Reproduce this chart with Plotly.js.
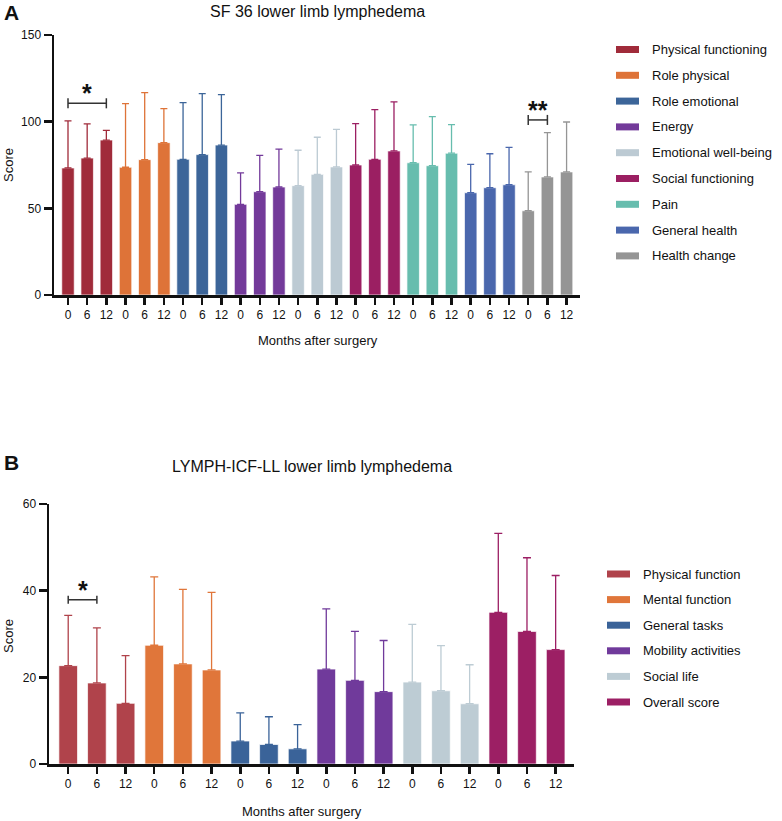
<!DOCTYPE html>
<html>
<head>
<meta charset="utf-8">
<script src="https://cdn.plot.ly/plotly-3.0.1.min.js"></script>
<style>
  html, body { margin: 0; padding: 0; background: #fff; }
  #chart { width: 782px; height: 821px; }
</style>
</head>
<body>
<div id="chart"></div>
<script>
// time points (months after surgery)
var months = ['0', '6', '12'];

// Panel A: SF 36
var sfNames = ['Physical functioning', 'Role physical', 'Role emotional', 'Energy',
  'Emotional well-being', 'Social functioning', 'Pain', 'General health', 'Health change'];
var sfColors = ['#A02B3A', '#DE7338', '#3C6599', '#733A9A', '#BCCAD3', '#9B1F62', '#67BDAE', '#4A67AD', '#959595'];
var sfMean = [
  [73.3, 79.0, 89.4],
  [73.7, 78.1, 87.9],
  [78.3, 81.0, 86.5],
  [52.3, 59.6, 62.3],
  [63.1, 69.6, 73.9],
  [75.0, 78.3, 83.1],
  [76.3, 74.6, 81.8],
  [59.0, 61.9, 63.6],
  [48.6, 68.1, 71.0]
];
var sfSD = [
  [27.1, 19.7, 5.6],
  [36.7, 38.6, 19.6],
  [32.7, 35.2, 29.1],
  [18.1, 21.0, 21.9],
  [20.4, 21.4, 21.7],
  [23.9, 28.6, 28.3],
  [21.8, 28.3, 16.5],
  [16.4, 19.6, 21.6],
  [22.4, 25.6, 28.8]
];
// significance brackets: bar index from, to, height, label
var sfSig = [
  {from: 0, to: 2, y: 110.6, label: '*'},
  {from: 24, to: 25, y: 101, label: '**'}
];

// Panel B: LYMPH-ICF-LL
var icfNames = ['Physical function', 'Mental function', 'General tasks', 'Mobility activities', 'Social life', 'Overall score'];
var icfColors = ['#B0434B', '#E0763A', '#3A6399', '#703A9B', '#BDCCD4', '#9C1F64'];
var icfMean = [
  [22.7, 18.7, 14.0],
  [27.4, 23.1, 21.7],
  [5.3, 4.5, 3.5],
  [21.9, 19.3, 16.7],
  [18.9, 16.9, 13.9],
  [35.0, 30.6, 26.4]
];
var icfSD = [
  [11.6, 12.7, 11.0],
  [15.8, 17.2, 17.9],
  [6.5, 6.4, 5.6],
  [13.9, 11.3, 11.8],
  [13.3, 10.4, 9.0],
  [18.2, 17.0, 17.1]
];
var icfSig = [
  {from: 0, to: 1, y: 37.9, label: '*'}
];

var W = 782, H = 821;
function px(x) { return x / W; }
function py(y) { return 1 - y / H; }
var font = 'Liberation Sans, Arial, sans-serif';

var data = [];
var shapes = [];
var annotations = [];

function addPanel(names, colors, means, sds, xa, ya, capw) {
  names.forEach(function(name, g) {
    var xs = months.map(function(m, j) { return g * months.length + j; });
    data.push({
      type: 'bar',
      name: name,
      x: xs,
      y: means[g],
      width: 0.65,
      xaxis: xa,
      yaxis: ya,
      showlegend: false,
      hoverinfo: 'skip',
      marker: {color: colors[g], line: {color: 'rgba(255,255,255,0.7)', width: 1}},
      error_y: {
        type: 'data',
        symmetric: false,
        array: sds[g],
        arrayminus: sds[g].map(function() { return 0; }),
        color: colors[g],
        thickness: 1.3,
        width: capw
      }
    });
  });
}

function addSig(sig, xr, yr, half) {
  sig.forEach(function(s) {
    var lineStyle = {color: '#333', width: 1.5};
    shapes.push({type: 'line', xref: xr, yref: yr, x0: s.from, x1: s.to, y0: s.y, y1: s.y, line: lineStyle});
    shapes.push({type: 'line', xref: xr, yref: yr, x0: s.from, x1: s.from, y0: s.y - half, y1: s.y + half, line: lineStyle});
    shapes.push({type: 'line', xref: xr, yref: yr, x0: s.to, x1: s.to, y0: s.y - half, y1: s.y + half, line: lineStyle});
    annotations.push({
      xref: xr, yref: yr, x: (s.from + s.to) / 2, y: s.y,
      text: '<b>' + s.label + '</b>', showarrow: false,
      yanchor: 'bottom', yshift: -6,
      font: {family: font, size: 25, color: '#111'}
    });
  });
}

function addLegend(names, colors, rx0, rx1, tx, y0, dy) {
  names.forEach(function(name, i) {
    var y = y0 + i * dy;
    shapes.push({
      type: 'rect', xref: 'paper', yref: 'paper',
      x0: px(rx0), x1: px(rx1), y0: py(y - 3.5), y1: py(y + 3.5),
      fillcolor: colors[i], line: {width: 0}
    });
    annotations.push({
      xref: 'paper', yref: 'paper', x: px(tx), y: py(y),
      xanchor: 'left', yanchor: 'middle', showarrow: false,
      text: name, font: {family: font, size: 13, color: '#111'}
    });
  });
}

addPanel(sfNames, sfColors, sfMean, sfSD, 'x', 'y', 3.5);
addPanel(icfNames, icfColors, icfMean, icfSD, 'x2', 'y2', 4);
addSig(sfSig, 'x', 'y', 2.9);
addSig(icfSig, 'x2', 'y2', 0.9);
addLegend(sfNames, sfColors, 616, 639, 650, 49.5, 25.8);
addLegend(icfNames, icfColors, 607, 630, 641, 574, 25.6);

function textAnn(text, x, y, size, opts) {
  var a = {
    xref: 'paper', yref: 'paper', x: px(x), y: py(y),
    xanchor: 'center', yanchor: 'middle', showarrow: false,
    text: text, font: {family: font, size: size, color: '#111'}
  };
  for (var k in opts) a[k] = opts[k];
  annotations.push(a);
}

textAnn('<b>A</b>', 11, 12, 21);
textAnn('<b>B</b>', 11, 462, 21);
textAnn('SF 36 lower limb lymphedema', 317, 11, 16);
textAnn('LYMPH-ICF-LL lower limb lymphedema', 312, 466, 16);
textAnn('Months after surgery', 318, 340, 13);
textAnn('Months after surgery', 302, 811, 13);
textAnn('Score', 8, 165, 13, {textangle: -90});
textAnn('Score', 8, 636, 13, {textangle: -90});

var nSf = sfNames.length * months.length;
var nIcf = icfNames.length * months.length;
function idx(n) { var a = []; for (var i = 0; i < n; i++) a.push(i); return a; }
function labels(n) { var a = []; for (var i = 0; i < n; i++) a.push(months[i % months.length]); return a; }

var xBase = {
  showgrid: false, zeroline: false, showline: true, linecolor: '#111', linewidth: 2.5,
  ticks: 'outside', ticklen: 7, tickwidth: 2.5, tickcolor: '#111',
  tickfont: {family: font, size: 12, color: '#111'}, fixedrange: true
};
function merge(a, b) { var o = {}; for (var k in a) o[k] = a[k]; for (var k2 in b) o[k2] = b[k2]; return o; }

var layout = {
  width: W, height: H,
  margin: {l: 0, r: 0, t: 0, b: 0},
  paper_bgcolor: '#fff', plot_bgcolor: '#fff',
  barmode: 'overlay',
  showlegend: false,
  font: {family: font, color: '#111'},
  xaxis: merge(xBase, {
    domain: [px(54), px(580)], anchor: 'y',
    range: [-0.73, nSf - 1 + 0.7],
    tickmode: 'array', tickvals: idx(nSf), ticktext: labels(nSf)
  }),
  yaxis: merge(xBase, {
    domain: [py(295), py(35)], anchor: 'x', ticklen: 8,
    range: [0, 150], tickmode: 'array', tickvals: [0, 50, 100, 150]
  }),
  xaxis2: merge(xBase, {
    domain: [px(49), px(574)], anchor: 'y2',
    range: [-0.67, nIcf - 1 + 0.64],
    tickmode: 'array', tickvals: idx(nIcf), ticktext: labels(nIcf)
  }),
  yaxis2: merge(xBase, {
    domain: [py(764), py(504)], anchor: 'x2', ticklen: 8,
    range: [0, 60], tickmode: 'array', tickvals: [0, 20, 40, 60]
  }),
  shapes: shapes,
  annotations: annotations
};

Plotly.newPlot('chart', data, layout, {displayModeBar: false, staticPlot: true});
</script>
</body>
</html>
